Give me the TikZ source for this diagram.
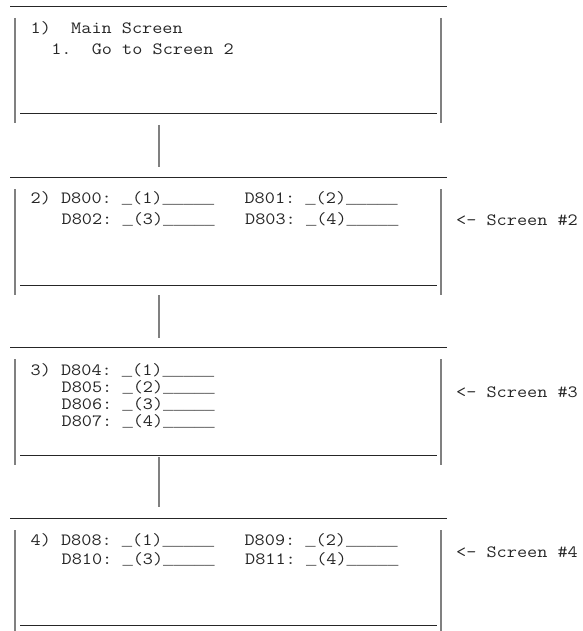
\documentclass[tikz,border=0pt]{standalone}
\usepackage{fontspec}
\usepackage{xcolor}
\usepackage{tikz}
\usetikzlibrary{calc}
\newfontfamily\barfont{Liberation Mono}
\definecolor{inkc}{HTML}{262626}
\definecolor{barc}{HTML}{808080}
\newcommand\scrline[1]{\scalebox{1.144}[1]{#1}}
\newcommand\us{{\barfont\fontsize{15.03}{20}\selectfont\_}}
\tikzset{
  scr/.style={draw=none,minimum width=426pt,minimum height=105pt,inner sep=0pt,outer sep=0pt},
  hl/.style={line width=0.9pt,inkc},
  vl/.style={line width=1.1pt,barc},
  link/.style={line width=1.1pt,barc},
  txt/.style={anchor=base west,inner sep=0pt,text=inkc,font=\ttfamily\fontsize{17.2}{20}\selectfont}
}
\frenchspacing

\begin{document}
\begin{tikzpicture}[x=1pt,y=-1pt]
\path[use as bounding box,clip] (0,0) rectangle (582,631);
% screens
\node[scr] (s1) at (228,70.5) {};
\node[scr,minimum height=106pt] (s2) at (228,242) {};
\node[scr,minimum height=106pt] (s3) at (228,412) {};
\node[scr] (s4) at (228,582.5) {};
\foreach \s in {s1,s2,s3,s4}{
  \draw[vl] (\s.north west) -- (\s.south west);
  \draw[vl] (\s.north east) -- (\s.south east);
  \draw[hl] ($(\s.north west)+(-5,-11.5)$) -- ($(\s.north east)+(6,-11.5)$);
  \draw[hl] ($(\s.south west)+(5,-10)$) -- ($(\s.south east)+(-4,-10)$);
}
% links
\draw[link] ($(s1.south west)+(144,2)$) -- ($(s2.north west)+(144,-22)$);
\draw[link] ($(s2.south west)+(144,0)$) -- ($(s3.north west)+(144,-21)$);
\draw[link] ($(s3.south west)+(144,-8)$) -- ($(s4.north west)+(144,-23)$);
% screen 1
\node[txt] (t1a) at (30.5,34) {\scrline{1)\ \ Main Screen}};
\node[txt] (t1b) at (51.1,55) {\scrline{1.\ \ Go to Screen 2}};
% screen 2
\node[txt] (t2a) at (30.5,204) {\scrline{2) D800: \us(1)\us\us\us\us\us\ \ \ D801: \us(2)\us\us\us\us\us}};
\node[txt] (t2b) at (61.5,224) {\scrline{D802: \us(3)\us\us\us\us\us\ \ \ D803: \us(4)\us\us\us\us\us}};
\node[txt] (l2) at (456,225) {\scrline{<– Screen \#2}};
% screen 3
\node[txt] (t3a) at (30.5,375) {\scrline{3) D804: \us(1)\us\us\us\us\us}};
\node[txt] (t3b) at (61.5,392) {\scrline{D805: \us(2)\us\us\us\us\us}};
\node[txt] (t3c) at (61.5,409) {\scrline{D806: \us(3)\us\us\us\us\us}};
\node[txt] (t3d) at (61.5,426) {\scrline{D807: \us(4)\us\us\us\us\us}};
\node[txt] (l3) at (456,397) {\scrline{<– Screen \#3}};
% screen 4
\node[txt] (t4a) at (30.5,545) {\scrline{4) D808: \us(1)\us\us\us\us\us\ \ \ D809: \us(2)\us\us\us\us\us}};
\node[txt] (t4b) at (61.5,564) {\scrline{D810: \us(3)\us\us\us\us\us\ \ \ D811: \us(4)\us\us\us\us\us}};
\node[txt] (l4) at (456,557) {\scrline{<– Screen \#4}};
\end{tikzpicture}
\end{document}
